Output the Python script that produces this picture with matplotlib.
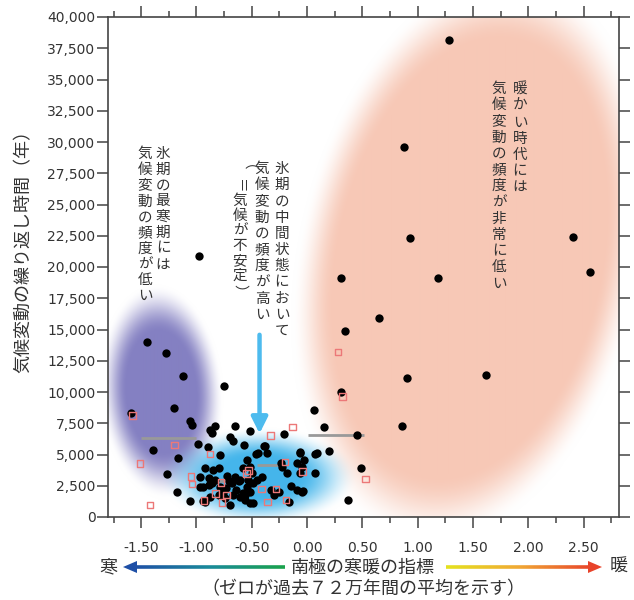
import numpy as np
import matplotlib
matplotlib.use("Agg")
import matplotlib.pyplot as plt
from matplotlib.collections import LineCollection
from matplotlib.colors import LinearSegmentedColormap
from matplotlib.patches import Polygon, FancyArrowPatch
from matplotlib.ticker import MultipleLocator, FuncFormatter

plt.rcParams['font.family'] = ['DejaVu Sans']
JP = ['Noto Sans CJK JP', 'DejaVu Sans']
TXT = '#333333'

# ---- data ----
# black dots: Antarctic temperature index vs. recurrence time (years)
black_x = [1.28, 0.88, 0.93, 2.40, 0.31, 1.18, 2.56, -0.98, 0.65, 0.34,
           -1.45, -1.28, -1.12, 0.90, 1.62, -0.75, 0.31, -1.59, -1.20, 0.06,
           -1.06, -1.04, 0.15, 0.86, 0.45, -0.88, -0.86, -0.83, -0.70, -0.67,
           -0.65, -0.52, -0.21, -0.99, -0.90, -0.57, -0.39, -1.39, -0.79, -0.46,
           -0.36, -0.06, 0.07, 0.09, 0.20, -1.17, 0.49, 0.07, -1.27, -1.18,
           -1.06, 0.37, -0.04,
           -0.92, -0.85, -0.80, -0.89, -0.94, -0.83, -0.79, -0.73, -0.68, -0.64,
           -0.67, -0.61, -0.74, -0.80, -0.88, -0.92, -0.70, -0.58, -0.515, -0.65,
           -0.61, -0.97, -0.97, -0.89, -0.56, -0.44, -0.38, -0.06, -0.03, -0.09,
           -0.05, -0.06, -0.24, -0.18, -0.23, -0.545, -0.515, -0.576, -0.50, -0.53,
           -0.485, -0.545, -0.515, -0.41, -0.09, -0.05, -0.33, -0.25, -0.165, -0.49,
           -0.94, -0.71, -0.86, -0.62, -0.56, -0.72, -0.76, -0.45, -0.30, -0.15]
black_y = [38200, 29600, 22350, 22400, 19100, 19100, 19600, 20900, 15900, 14900,
           14000, 13150, 11250, 11100, 11350, 10450, 10000, 8300, 8750, 8550,
           7650, 7350, 7200, 7300, 6600, 7000, 6700, 7300, 6400, 6050,
           7300, 6850, 6650, 5850, 5600, 5800, 5700, 5350, 4950, 5050,
           5100, 5100, 5050, 5150, 5300, 4750, 3900, 3550, 3450, 2000,
           1300, 1400, 2050,
           3900, 3760, 3900, 3100, 2430, 2960, 2430, 2300, 2700, 2160,
           1760, 1620, 1500, 1760, 1620, 1220, 960, 1900, 1100, 3220,
           2960, 3230, 2430, 2560, 1750, 5090, 5680, 5220, 4560, 4300,
           4030, 3500, 4300, 3500, 4030, 4560, 4030, 3900, 3500, 2960,
           2700, 2430, 2030, 3220, 2160, 2030, 2160, 2030, 1220, 1150,
           1280, 2850, 2700, 2850, 1350, 3250, 1900, 3000, 1800, 2500]

# red open squares
red_x = [-1.58, -1.20, -1.51, -1.42, -0.88, -1.05, -1.04, -0.78, -0.83, -0.73,
         -0.93, -0.77, -0.55, -0.53, -0.33, -0.13, -0.41, -0.28, -0.36, -0.20,
         -0.19, -0.04, 0.28, 0.32, 0.53]
red_y = [8100, 5750, 4300, 950, 5050, 3250, 2650, 2780, 1900, 1750,
         1300, 1150, 3500, 3700, 6500, 7200, 2250, 2250, 1200, 4400,
         1350, 3650, 13200, 9650, 3050]

# grey horizontal bars
bar_x0 = [-1.50, 0.01, -0.45, -0.80]
bar_x1 = [-1.00, 0.51, -0.21, -0.60]
bar_y = [6350, 6600, 4200, 2850]

x_ticks = [-1.5, -1.0, -0.5, 0.0, 0.5, 1.0, 1.5, 2.0, 2.5]
xlim = (-1.80, 2.82)
ylim = (0, 40000)

# ---- figure ----
fig = plt.figure(figsize=(6.34, 6.00), dpi=100)
L, R, B, T = 108, 619, 517, 17
ax = fig.add_axes([L / 634, 1 - B / 600, (R - L) / 634, (B - T) / 600])
ax.set_xlim(*xlim)
ax.set_ylim(*ylim)

# soft coloured regions (drawn in pixel space of the axes)
gx = np.linspace(xlim[0], xlim[1], 520)
gy = np.linspace(ylim[0], ylim[1], 500)
X, Y = np.meshgrid(gx, gy)
PX = L + (X - xlim[0]) / (xlim[1] - xlim[0]) * (R - L)
PY = B - (Y - ylim[0]) / (ylim[1] - ylim[0]) * (B - T)


def blob(cx, cy, a, b, ang, soft):
    t = np.deg2rad(ang)
    dx, dy = PX - cx, PY - cy
    u = dx * np.cos(t) + dy * np.sin(t)
    v = dx * np.sin(t) - dy * np.cos(t)
    d = np.sqrt((u / a) ** 2 + (v / b) ** 2)
    s = np.clip((1.0 - d) / soft, 0, 1)
    return s * s * (3 - 2 * s)


img = np.ones(X.shape + (3,))
for col, al in [((247, 200, 182), blob(470, 258, 172, 290, 12, 0.24)),
                ((132, 128, 194), blob(161, 392, 62, 108, -4, 0.45)),
                ((60, 178, 234), 0.95 * blob(258, 477, 100, 50, 0, 0.60))]:
    c = np.array(col) / 255.0
    img = img * (1 - al[..., None]) + c * al[..., None]
ax.imshow(img, extent=(xlim[0], xlim[1], ylim[0], ylim[1]), origin='lower',
          aspect='auto', interpolation='bilinear', zorder=0)

ax.hlines(bar_y, bar_x0, bar_x1, colors='#999999', lw=2, zorder=3)
ax.scatter(black_x, black_y, s=36, c='black', linewidths=0, zorder=4)
ax.scatter(red_x, red_y, s=22, marker='s', facecolors='none',
           edgecolors='#ec7878', linewidths=1.0, zorder=5)

arr = FancyArrowPatch((-0.43, 14800), (-0.43, 6450), arrowstyle='-|>',
                      mutation_scale=24, lw=3.2, color='#4dbbee', zorder=6)
ax.add_patch(arr)

# axes styling
for sp in ax.spines.values():
    sp.set_color('#444444')
    sp.set_linewidth(1.2)
ax.set_xticks(x_ticks)
ax.xaxis.set_minor_locator(MultipleLocator(0.25))
ax.yaxis.set_major_locator(MultipleLocator(2500))
ax.xaxis.set_major_formatter(FuncFormatter(lambda v, p: f"{v:.2f}"))
ax.yaxis.set_major_formatter(FuncFormatter(lambda v, p: f"{v:,.0f}"))
ax.tick_params(which='both', direction='out', top=True, right=True,
               color='#444444', width=1.1, labelcolor=TXT, labelsize=10)
ax.tick_params(which='major', length=8)
ax.tick_params(which='minor', length=4)
ax.tick_params(axis='x', pad=9)
ax.tick_params(axis='y', pad=1)

# ---- overlay in pixel coordinates for labels ----
ov = fig.add_axes([0, 0, 1, 1], facecolor='none')
ov.set_xlim(0, 634)
ov.set_ylim(600, 0)
ov.axis('off')

ov.text(24, 247, '気候変動の繰り返し時間（年）', rotation=90, ha='center',
        va='center', fontsize=13, color=TXT, family=JP)


def vcol(text, x, y0, pitch=16.0, size=10.5):
    for i, ch in enumerate(text):
        rot = -90 if ch in '（）＝' else 0
        ov.text(x, y0 + i * pitch, ch, ha='center', va='center', rotation=rot,
                fontsize=size, color=TXT, family=JP)


vcol('氷期の最寒期には', 163, 154, 15.8)
vcol('気候変動の頻度が低い', 145, 154, 15.8)
vcol('氷期の中間状態において', 282, 169, 16.2)
vcol('気候変動の頻度が高い', 262, 169, 16.2)
vcol('（＝気候が不安定）', 240, 171, 15.0)
vcol('暖かい時代には', 520, 90, 16.2)
vcol('気候変動の頻度が非常に低い', 499, 89, 16.2)

# bottom gradient arrows
ay = 567


def grad_line(x0, x1, colors):
    xs = np.linspace(x0, x1, 120)
    segs = [[(xs[i], ay), (xs[i + 1], ay)] for i in range(len(xs) - 1)]
    cm = LinearSegmentedColormap.from_list('g', colors)
    lc = LineCollection(segs, colors=cm(np.linspace(0, 1, len(segs))), lw=2.6,
                        capstyle='butt')
    ov.add_collection(lc)


grad_line(134, 285, ['#1e4fa6', '#1a8a9a', '#1aa24c'])
ov.add_patch(Polygon([(123, ay), (137, ay - 6), (137, ay + 6)], closed=True,
                     color='#1e4fa6', lw=0))
grad_line(446, 592, ['#e4e21e', '#f0a834', '#e8432a'])
ov.add_patch(Polygon([(602, ay), (588, ay - 6), (588, ay + 6)], closed=True,
                     color='#e8432a', lw=0))

ov.text(108, ay, '寒', ha='center', va='center', fontsize=13, color=TXT, family=JP)
ov.text(619, ay, '暖', ha='center', va='center', fontsize=13, color=TXT, family=JP)
ov.text(363, ay, '南極の寒暖の指標', ha='center', va='center', fontsize=13,
        color=TXT, family=JP)
ov.text(363, 589, '（ゼロが過去７２万年間の平均を示す）', ha='center', va='center',
        fontsize=13, color=TXT, family=JP)

fig.savefig('out.png', dpi=100)
